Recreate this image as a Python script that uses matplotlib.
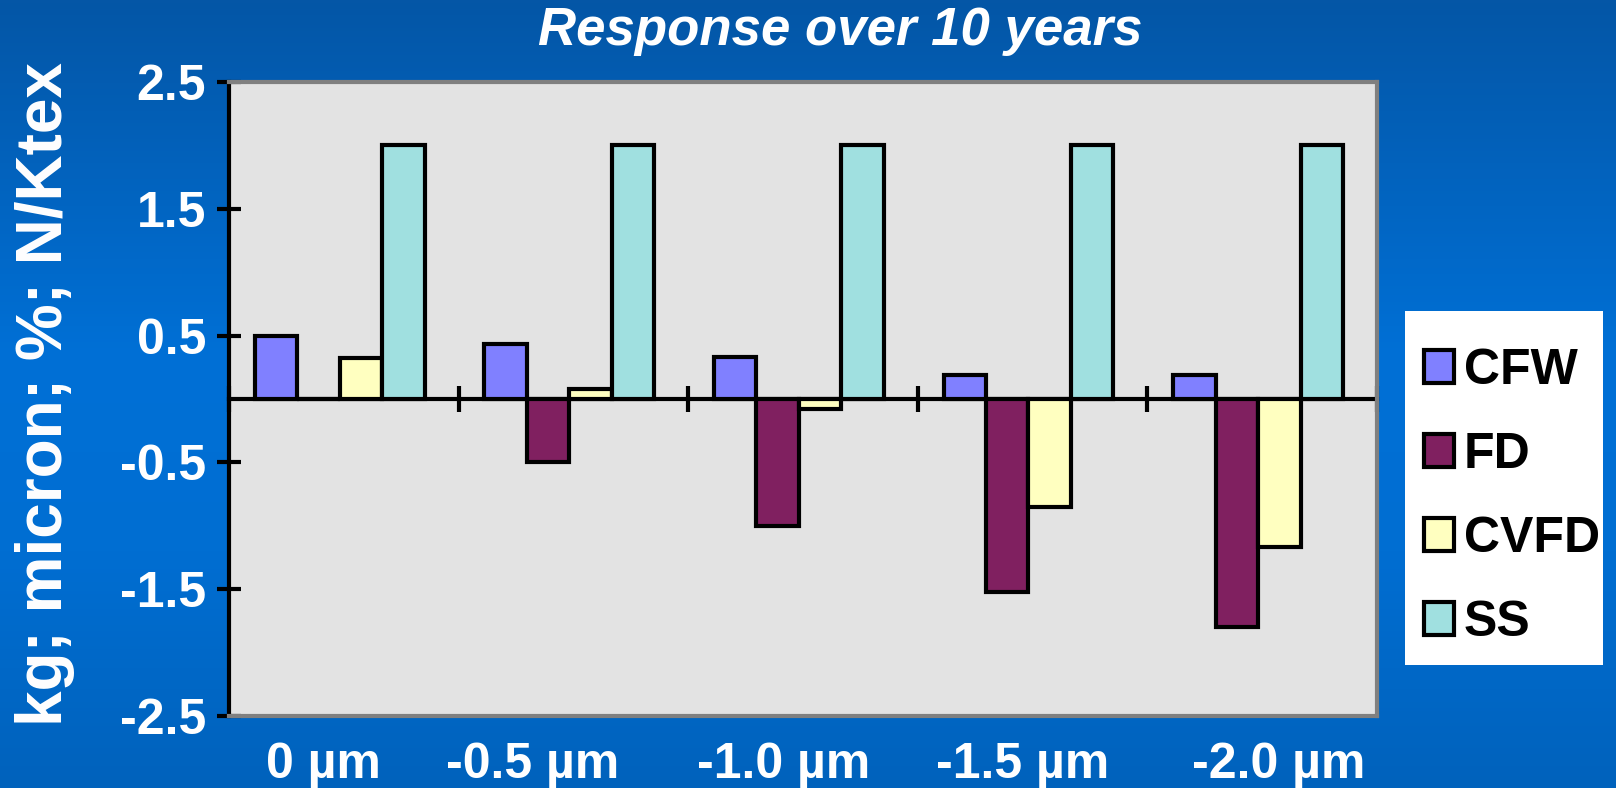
import numpy as np
import matplotlib.pyplot as plt
import matplotlib.transforms as mtransforms
from matplotlib.colors import LinearSegmentedColormap
from matplotlib.patches import Rectangle

plt.rcParams['font.family'] = ['Liberation Sans', 'DejaVu Sans']

categories = ['0 \u00b5m', '-0.5 \u00b5m', '-1.0 \u00b5m', '-1.5 \u00b5m', '-2.0 \u00b5m']
series = ['CFW', 'FD', 'CVFD', 'SS']
cfw = [0.50, 0.43, 0.33, 0.19, 0.19]
fd = [0.0, -0.50, -1.00, -1.52, -1.80]
cvfd = [0.32, 0.08, -0.08, -0.85, -1.17]
ss = [2.0, 2.0, 2.0, 2.0, 2.0]
colors = ['#8080FF', '#802060', '#FFFFC0', '#A0E0E0']
yticks = [2.5, 1.5, 0.5, -0.5, -1.5, -2.5]

# the category captions sit a little off-centre (pixels)
label_shift = [-20, -41, -19, -10, 16]

fig = plt.figure(figsize=(16.16, 7.88), dpi=100)

# blue slide background
bg = fig.add_axes([0, 0, 1, 1], zorder=-10)
cmap = LinearSegmentedColormap.from_list(
    'slide', [(0.0, '#0456A6'), (0.45, '#0070D6'), (0.7, '#006ED2'), (1.0, '#0062BC')])
bg.imshow(np.linspace(0, 1, 256).reshape(-1, 1), aspect='auto', cmap=cmap,
          extent=[0, 1, 0, 1], origin='upper')
bg.set_axis_off()

ax = fig.add_axes([0.1417, 0.0914, 0.7104, 0.8046])
ax.set_facecolor('#E3E3E3')

x = np.arange(len(categories))
w = 0.185
handles = []
for i, (name, vals) in enumerate(zip(series, [cfw, fd, cvfd, ss])):
    b = ax.bar(x + (i - 1.5) * w - 0.018, vals, w, color=colors[i],
               edgecolor='black', linewidth=3, label=name, zorder=3)
    handles.append(b)

ax.set_xlim(-0.5, len(categories) - 0.5)
ax.set_ylim(-2.5, 2.5)
ax.set_yticks(yticks)
ax.set_yticklabels([f'{v:.1f}' for v in yticks])
ax.set_xticks(x)
ax.set_xticklabels(categories)
ax.tick_params(axis='x', length=0, pad=19, labelsize=36, labelcolor='white')
ax.tick_params(axis='y', direction='inout', length=17, width=3, pad=8,
               labelsize=36, labelcolor='white', color='black')
for lab in ax.get_xticklabels() + ax.get_yticklabels():
    lab.set_fontweight('bold')
for lab, dx in zip(ax.get_xticklabels(), label_shift):
    lab.set_transform(lab.get_transform() +
                      mtransforms.ScaledTranslation(dx / 100, 0, fig.dpi_scale_trans))

for side in ['top', 'right', 'bottom']:
    ax.spines[side].set_color('#808080')
    ax.spines[side].set_linewidth(3)
ax.spines['left'].set_color('black')
ax.spines['left'].set_linewidth(3)

# category axis running through zero with boundary ticks
zero_ax = ax.secondary_xaxis(0.5)
zero_ax.set_xticks(np.arange(-0.5, len(categories), 1.0))
zero_ax.tick_params(direction='inout', length=19, width=3, color='black',
                    labelbottom=False, labeltop=False)
for sp in zero_ax.spines.values():
    sp.set_linewidth(3)
    sp.set_color('black')

fig.text(0.52, 0.961, 'Response over 10 years', ha='center', va='center',
         color='white', fontsize=38, fontweight='bold', fontstyle='italic')
fig.text(0.028, 0.5, 'kg; micron; %; N/Ktex', rotation=90, ha='center',
         va='center', color='white', fontsize=46, fontweight='bold')

# white legend panel, then a frameless legend on top of it
fig.patches.append(Rectangle((0.8694, 0.156), 0.1225, 0.449, facecolor='white',
                             edgecolor='none', transform=fig.transFigure, zorder=1))
leg = fig.legend(handles=handles, labels=series, loc='center',
                 bbox_to_anchor=(0.9355, 0.369), fontsize=36, frameon=False,
                 handlelength=0.6, handleheight=0.65, handletextpad=0.2,
                 labelspacing=0.76, borderpad=0, borderaxespad=0)
leg.set_zorder(2)
for t in leg.get_texts():
    t.set_fontweight('bold')
for h in leg.legend_handles:
    h.set_linewidth(3)

fig.savefig('out.png', dpi=100)
